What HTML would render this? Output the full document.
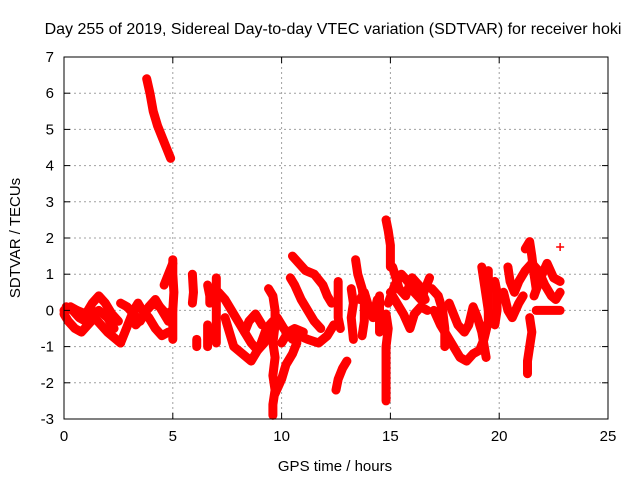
<!DOCTYPE html>
<html><head><meta charset="utf-8"><style>
html,body{margin:0;padding:0;background:#fff;}
svg text{font-family:"Liberation Sans",sans-serif;font-size:15px;fill:#000;}
</style></head><body>
<svg id="chart" width="640" height="480" xmlns="http://www.w3.org/2000/svg">
<text x="333" y="34" text-anchor="middle" style="font-size:16px">Day 255 of 2019, Sidereal Day-to-day VTEC variation (SDTVAR) for receiver hoki</text>
<text x="335" y="471" text-anchor="middle">GPS time / hours</text>
<text transform="translate(20,238) rotate(-90)" text-anchor="middle">SDTVAR / TECUs</text>
<g id="grid"></g>
<g id="marks"></g>
<g id="axes"></g>
</svg>
<script>
const xTicks = [0,5,10,15,20,25];
const yTicks = [-3,-2,-1,0,1,2,3,4,5,6,7];
const traces = [
 [[0,0],[0.3,0.1],[0.6,0.0],[1.0,-0.1],[1.3,0.2],[1.6,0.4],[1.9,0.2],[2.2,-0.1],[2.5,-0.3]],
 [[0,-0.1],[0.2,-0.3],[0.5,-0.5],[0.8,-0.6],[1.1,-0.4],[1.4,-0.2],[1.7,-0.4],[2.0,-0.6],[2.4,-0.8],[2.6,-0.9]],
 [[0.1,0.1],[0.4,0.0],[0.7,-0.2],[1.0,-0.3],[1.3,-0.1],[1.6,0.0],[2.0,-0.2],[2.3,-0.5]],
 [[2.6,-0.9],[2.8,-0.6],[3.0,-0.3],[3.2,0.0],[3.4,0.2],[3.6,0.0],[3.9,-0.2],[4.2,-0.5],[4.5,-0.7],[4.8,-0.6]],
 [[2.6,0.2],[2.9,0.1],[3.2,-0.1],[3.5,-0.3],[3.8,0.0],[4.1,0.2],[4.4,0.1],[4.7,-0.1],[5.0,0.0]],
 [[3.3,-0.4],[3.6,-0.2],[3.9,0.1],[4.2,0.3],[4.5,0.0],[4.8,-0.3]],
 [[3.8,6.4],[3.95,6.0],[4.1,5.5],[4.3,5.1],[4.5,4.8],[4.7,4.5],[4.9,4.2]],
 [[5.0,1.4],[5.0,1.0],[5.05,0.5],[5.0,0],[5.0,-0.5],[5.0,-0.8]],
 [[4.6,0.7],[4.8,1.0],[5.0,1.3]],
 [[5.9,1.0],[5.95,0.5],[5.9,0.2]],
 [[6.1,-0.8],[6.1,-1.0]],
 [[6.6,-0.4],[6.6,-1.0]],
 [[6.6,0.7],[6.7,0.4],[6.7,0.2]],
 [[7.0,0.9],[7.0,0.3],[7.0,-0.3],[7.0,-0.9]],
 [[7.1,0.5],[7.4,0.3],[7.7,0.0],[8.0,-0.3],[8.3,-0.6],[8.6,-0.9],[8.9,-1.1],[9.2,-0.9],[9.6,-0.4],[9.9,-0.4]],
 [[7.4,-0.2],[7.6,-0.6],[7.8,-1.0],[8.2,-1.2],[8.6,-1.4],[9.0,-1.0],[9.3,-0.5],[9.6,-0.3]],
 [[8.3,-0.6],[8.5,-0.3],[8.8,-0.1],[9.1,-0.4]],
 [[9.4,0.6],[9.6,0.4],[9.7,0],[9.7,-0.4],[9.6,-0.9],[9.7,-1.3],[9.6,-1.8],[9.7,-2.2],[9.6,-2.6],[9.6,-2.9]],
 [[9.7,-2.3],[10.0,-1.9],[10.2,-1.5],[10.5,-1.2],[10.7,-0.9]],
 [[9.8,-0.2],[10.1,-0.5],[10.5,-0.8],[10.8,-0.7],[11.2,-0.8],[11.7,-0.9],[12.1,-0.7],[12.4,-0.4]],
 [[10.0,-0.9],[10.3,-0.6],[10.6,-0.5],[11.0,-0.6]],
 [[10.4,0.9],[10.6,0.7],[10.9,0.3],[11.2,0.0],[11.5,-0.3],[11.8,-0.5]],
 [[10.5,1.5],[10.8,1.3],[11.1,1.1],[11.5,1.0],[11.9,0.7],[12.1,0.4],[12.3,0.2]],
 [[12.6,0.8],[12.6,0.3],[12.6,-0.2],[12.7,-0.5]],
 [[12.5,-2.2],[12.6,-1.9],[12.8,-1.6],[13.0,-1.4]],
 [[13.2,0.6],[13.3,0.2],[13.2,-0.2],[13.3,-0.8]],
 [[13.4,1.4],[13.5,1.0],[13.7,0.6],[13.8,0.2],[13.8,-0.3],[13.7,-0.7]],
 [[13.6,0.3],[13.8,0.5],[14.0,0.1],[14.2,-0.2],[14.4,0.3]],
 [[14.5,0.4],[14.5,-0.1],[14.5,-0.6]],
 [[14.8,2.5],[14.9,2.2],[15.0,1.8],[15.0,1.2]],
 [[14.8,-0.1],[14.9,-0.5],[14.8,-1.0],[14.8,-1.5],[14.8,-2.0],[14.8,-2.5]],
 [[14.9,0.2],[15.2,0.7],[15.5,1.0],[15.8,0.8],[16.1,0.5],[16.4,0.3],[16.6,0.6],[16.8,0.9]],
 [[15.0,0.5],[15.3,0.2],[15.6,-0.1],[15.9,-0.5],[16.1,-0.1],[16.4,0.1],[16.7,0.0]],
 [[15.1,1.2],[15.4,0.6],[15.7,0.4],[16.0,0.9],[16.3,0.7],[16.6,0.3]],
 [[16.9,0.6],[17.2,0.4],[17.4,0.0],[17.5,-0.5],[17.5,-1.0]],
 [[17.0,0.0],[17.3,-0.4],[17.6,-0.7],[17.9,-1.0],[18.2,-1.3],[18.5,-1.4],[18.8,-1.2],[19.1,-1.1],[19.3,-0.8],[19.5,-0.3],[19.5,0.5],[19.5,1.1]],
 [[17.7,0.2],[17.9,-0.1],[18.1,-0.4],[18.4,-0.6],[18.6,-0.4],[18.8,0.1],[19.0,-0.2],[19.2,-0.6],[19.4,-1.3]],
 [[19.2,1.2],[19.3,0.8],[19.4,0.4],[19.5,0.0]],
 [[19.8,0.8],[19.9,0.5],[19.9,0.0],[19.8,-0.4]],
 [[20.4,1.2],[20.5,0.8],[20.7,0.5],[20.9,0.8],[21.2,1.1],[21.5,1.3],[21.8,1.1],[22.1,0.7],[22.4,0.4],[22.6,0.3],[22.8,0.5]],
 [[20.2,0.5],[20.4,0.0],[20.6,-0.2],[20.9,0.2],[21.1,0.4]],
 [[21.2,1.7],[21.4,1.9],[21.5,1.5],[21.6,1.0],[21.7,0.6]],
 [[21.6,0.4],[21.9,0.9],[22.2,1.3],[22.5,0.9],[22.8,0.8]],
 [[21.4,-0.2],[21.5,-0.6],[21.4,-1.0],[21.3,-1.4],[21.3,-1.75]],
 [[21.7,0.0],[22.0,0.0],[22.4,0.0],[22.8,0.0]],
 [[22.8,1.75]]
];
const L=64,R=608,T=57,B=419;
const xS=v=>L+(v-0)/(25-0)*(R-L);
const yS=v=>B-(v+3)/(7+3)*(B-T);
const NS="http://www.w3.org/2000/svg";
const grid=document.getElementById('grid'),axes=document.getElementById('axes'),marks=document.getElementById('marks');
function mk(tag,attrs,parent){const e=document.createElementNS(NS,tag);for(const k in attrs)e.setAttribute(k,attrs[k]);parent.appendChild(e);return e;}
xTicks.forEach(t=>{
 const x=xS(t);
 if(t>0&&t<25){const g=mk('line',{x1:x,y1:T,x2:x,y2:B,stroke:'#a0a0a0','stroke-dasharray':'2,3'},grid);
 
 }
 mk('line',{x1:x,y1:B,x2:x,y2:B-6,stroke:'#000'},axes);
 mk('line',{x1:x,y1:T,x2:x,y2:T+6,stroke:'#000'},axes);
 const tx=mk('text',{x:x,y:B+22,'text-anchor':'middle'},axes);tx.textContent=t;
 
 
});
yTicks.forEach(t=>{
 const y=yS(t);
 if(t>-3&&t<7){const g=mk('line',{x1:L,y1:y,x2:R,y2:y,stroke:'#a0a0a0','stroke-dasharray':'2,3'},grid);
 
 }
 mk('line',{x1:L,y1:y,x2:L+6,y2:y,stroke:'#000'},axes);
 mk('line',{x1:R,y1:y,x2:R-6,y2:y,stroke:'#000'},axes);
 const tx=mk('text',{x:L-10,y:y+5,'text-anchor':'end'},axes);tx.textContent=t;
 
 
});
mk('rect',{x:L,y:T,width:R-L,height:B-T,fill:'none',stroke:'#000','stroke-width':1},axes);
traces.forEach(tr=>{
 if(tr.length>1){
  const p=mk('polyline',{points:tr.map(d=>xS(d[0])+','+yS(d[1])).join(' '),fill:'none',stroke:'#f00','stroke-width':9,'stroke-linejoin':'round','stroke-linecap':'round'},marks);
  
  
 }
 tr.forEach(d=>{
  const x=xS(d[0]),y=yS(d[1]);
  const m=mk('path',{d:`M${x-4},${y}H${x+4}M${x},${y-4}V${y+4}`,stroke:'#f00','stroke-width':1.5},marks);
  
  
 });
});
</script>
</body></html>
